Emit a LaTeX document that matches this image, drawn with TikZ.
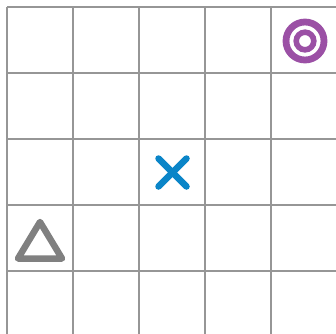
\documentclass[tikz,border=0pt]{standalone}
\usetikzlibrary{calc}
\definecolor{gridgray}{RGB}{150,150,150}
\definecolor{markpurple}{RGB}{155,80,165}
\definecolor{markblue}{RGB}{10,133,200}
\definecolor{markgray}{RGB}{128,128,128}
\tikzset{
  gridline/.style={draw=gridgray, line width=2pt},
  xmark/.style={draw=markblue, line width=6.5pt, line cap=round},
  trimark/.style={draw=markgray, line width=6.5pt, line join=round},
  ringmark/.style={draw=markpurple}
}
\begin{document}
\begin{tikzpicture}[x=1pt,y=-1pt]
\useasboundingbox (0,0) rectangle (336,333);
\fill[white] (0,0) rectangle (336,333);
\begin{scope}
\clip (0,0) rectangle (336,333);
\foreach \i in {0,...,5} {
  \draw[gridline] ({7+66*\i},7) -- ({7+66*\i},345);
  \draw[gridline] (7,{7+66*\i}) -- (345,{7+66*\i});
}
\end{scope}
% target
\coordinate (target) at (305,41);
\draw[ringmark, line width=6.8pt] (target) circle (19);
\draw[ringmark, line width=5.6pt] (target) circle (8.8);
% cross
\coordinate (cross) at (172.5,172.5);
\draw[xmark] ($(cross)+(-14,-14)$) -- ($(cross)+(14,14)$);
\draw[xmark] ($(cross)+(-14,14)$) -- ($(cross)+(14,-14)$);
% triangle
\coordinate (t1) at (40,222);
\coordinate (t2) at (62,258.5);
\coordinate (t3) at (18,258.5);
\draw[trimark] (t1) -- (t2) -- (t3) -- cycle;
\end{tikzpicture}
\end{document}
